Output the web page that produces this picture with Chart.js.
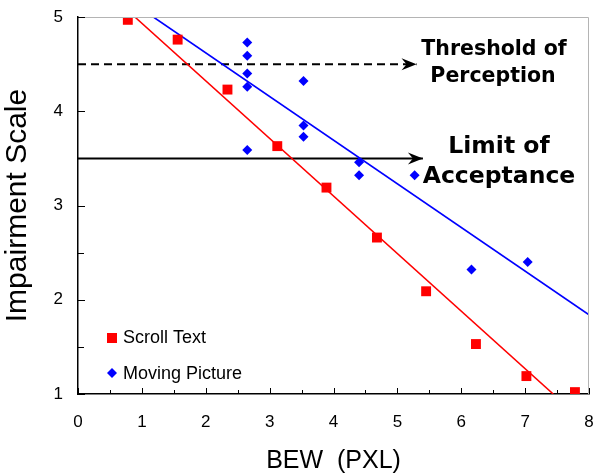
<!DOCTYPE html>
<html>
<head>
<meta charset="utf-8">
<script src="https://cdn.jsdelivr.net/npm/chart.js@4"></script>
<style>
  html, body { margin: 0; padding: 0; background: #fff; overflow: hidden; }
  #wrap { width: 599px; height: 476px; }
  canvas { display: block; }
</style>
</head>
<body>
<div id="wrap"><canvas id="chart"></canvas></div>
<script>
// values
const scroll_x = [0.78, 1.56, 2.34, 3.12, 3.89, 4.68, 5.45, 6.23, 7.02, 7.78];
const scroll_y = [4.97, 4.76, 4.23, 3.63, 3.19, 2.66, 2.09, 1.53, 1.19, 1.02];

const moving_x = [2.65, 2.65, 2.65, 2.65, 2.65, 3.53, 3.53, 3.53, 4.40, 4.40, 5.27, 6.16, 7.04];
const moving_y = [4.73, 4.59, 4.40, 4.26, 3.59, 4.32, 3.85, 3.73, 3.46, 3.32, 3.32, 2.32, 2.40];

// fitted lines (end points)
const scroll_fit_x = [0.89, 7.44];
const scroll_fit_y = [5.0, 1.0];
const moving_fit_x = [1.18, 8.0];
const moving_fit_y = [5.0, 1.84];

// reference levels
const threshold_x = [0, 5.30];
const threshold_y = [4.5, 4.5];
const limit_x = [0, 5.40];
const limit_y = [3.5, 3.5];

const x_ticks = [0, 1, 2, 3, 4, 5, 6, 7, 8];
const y_ticks = [1, 2, 3, 4, 5];

function pts(xs, ys) {
    return xs.map((x, i) => ({ x: x, y: ys[i] }));
}

function no_padding(axis) {
    axis.paddingLeft = 0;
    axis.paddingRight = 0;
    axis.paddingTop = 0;
    axis.paddingBottom = 0;
}

const RED = '#ff0000';
const BLUE = '#0000ff';

const frame_plugin = {
    id: 'frame',
    afterDraw(chart) {
        const ctx = chart.ctx;
        const a = chart.chartArea;
        const xs = chart.scales.x;
        const ys = chart.scales.y;
        ctx.save();

        // light frame on top and right
        ctx.strokeStyle = '#b4b4b4';
        ctx.lineWidth = 1;
        ctx.beginPath();
        ctx.moveTo(a.left, a.top + 0.5);
        ctx.lineTo(a.right - 0.5, a.top + 0.5);
        ctx.lineTo(a.right - 0.5, a.bottom);
        ctx.stroke();

        // inward ticks
        ctx.strokeStyle = '#000';
        ctx.lineWidth = 1;
        ctx.beginPath();
        for (let v = 0; v <= 8; v += 0.5) {
            const px = Math.round(xs.getPixelForValue(v)) + 0.5;
            const len = Number.isInteger(v) ? 6 : 4;
            ctx.moveTo(px, a.bottom);
            ctx.lineTo(px, a.bottom - len);
        }
        for (let v = 1; v <= 5; v += 0.5) {
            const py = Math.round(ys.getPixelForValue(v)) + 0.5;
            const len = Number.isInteger(v) ? 7 : 6;
            ctx.moveTo(a.left, py);
            ctx.lineTo(a.left + len, py);
        }
        ctx.stroke();

        // arrow heads
        const arrow = (x, y) => {
            const px = xs.getPixelForValue(x);
            const py = ys.getPixelForValue(y);
            ctx.fillStyle = '#000';
            ctx.beginPath();
            ctx.moveTo(px, py);
            ctx.lineTo(px - 15, py - 6);
            ctx.lineTo(px - 10, py);
            ctx.lineTo(px - 15, py + 6);
            ctx.closePath();
            ctx.fill();
        };
        arrow(threshold_x[1], threshold_y[1]);
        arrow(limit_x[1], limit_y[1]);

        // annotation texts
        ctx.fillStyle = '#000';
        ctx.textAlign = 'center';
        ctx.textBaseline = 'middle';
        ctx.font = 'bold 20.5px "DejaVu Sans"';
        ctx.fillText('Threshold of', 494, 50);
        ctx.fillText('Perception', 493, 77);
        ctx.font = 'bold 23.5px "DejaVu Sans"';
        ctx.fillText('Limit of', 499, 147);
        ctx.fillText('Acceptance', 499, 177);

        // legend inside plot
        ctx.textAlign = 'left';
        ctx.font = '18px "Liberation Sans"';
        ctx.fillStyle = RED;
        ctx.fillRect(107, 333, 10, 10);
        ctx.fillStyle = BLUE;
        ctx.beginPath();
        ctx.moveTo(112, 368);
        ctx.lineTo(117, 373);
        ctx.lineTo(112, 378);
        ctx.lineTo(107, 373);
        ctx.closePath();
        ctx.fill();
        ctx.fillStyle = '#000';
        ctx.fillText('Scroll Text', 123, 338);
        ctx.fillText('Moving Picture', 123, 374);

        ctx.restore();
    }
};

new Chart(document.getElementById('chart'), {
    type: 'scatter',
    data: {
        datasets: [
            {
                label: 'Scroll Text',
                data: pts(scroll_x, scroll_y),
                pointStyle: 'rect',
                pointRadius: 7,
                pointHoverRadius: 7,
                backgroundColor: RED,
                borderColor: RED,
                borderWidth: 0,
                order: 1
            },
            {
                label: 'Moving Picture',
                data: pts(moving_x, moving_y),
                pointStyle: 'rectRot',
                pointRadius: 5,
                pointHoverRadius: 5,
                backgroundColor: BLUE,
                borderColor: BLUE,
                borderWidth: 0,
                order: 2
            },
            {
                label: 'Scroll fit',
                data: pts(scroll_fit_x, scroll_fit_y),
                showLine: true,
                pointRadius: 0,
                borderColor: RED,
                borderWidth: 1.6,
                order: 3
            },
            {
                label: 'Moving fit',
                data: pts(moving_fit_x, moving_fit_y),
                showLine: true,
                pointRadius: 0,
                borderColor: BLUE,
                borderWidth: 1.6,
                order: 4
            },
            {
                label: 'Threshold of Perception',
                data: pts(threshold_x, threshold_y),
                showLine: true,
                pointRadius: 0,
                borderColor: '#000',
                borderWidth: 2,
                borderDash: [8, 5],
                order: 5
            },
            {
                label: 'Limit of Acceptance',
                data: pts(limit_x, limit_y),
                showLine: true,
                pointRadius: 0,
                borderColor: '#000',
                borderWidth: 2,
                order: 6
            }
        ]
    },
    options: {
        responsive: true,
        maintainAspectRatio: false,
        animation: false,
        layout: { padding: { top: 17, right: 10, left: 0, bottom: 0 } },
        plugins: {
            legend: { display: false },
            tooltip: { enabled: false }
        },
        scales: {
            x: {
                type: 'linear',
                min: 0,
                max: 8,
                afterBuildTicks: axis => { axis.ticks = x_ticks.map(v => ({ value: v })); },
                afterFit: axis => { axis.height = 82; no_padding(axis); },
                grid: { display: false, drawTicks: false },
                border: { display: true, color: '#000', width: 1.5 },
                ticks: {
                    color: '#000',
                    padding: 18,
                    font: { family: 'Liberation Sans', size: 17 }
                },
                title: {
                    display: true,
                    text: 'BEW  (PXL)',
                    color: '#000',
                    padding: { top: 2, bottom: 0 },
                    font: { family: 'Liberation Sans', size: 25 }
                }
            },
            y: {
                type: 'linear',
                min: 1,
                max: 5,
                afterBuildTicks: axis => { axis.ticks = y_ticks.map(v => ({ value: v })); },
                afterFit: axis => { axis.width = 78; no_padding(axis); },
                grid: { display: false, drawTicks: false },
                border: { display: true, color: '#000', width: 1.5 },
                ticks: {
                    color: '#000',
                    padding: 15,
                    font: { family: 'Liberation Sans', size: 17 }
                },
                title: {
                    display: true,
                    text: 'Impairment Scale',
                    color: '#000',
                    padding: { top: 0, bottom: 4 },
                    font: { family: 'Liberation Sans', size: 30 }
                }
            }
        }
    },
    plugins: [frame_plugin]
});
</script>
</body>
</html>
